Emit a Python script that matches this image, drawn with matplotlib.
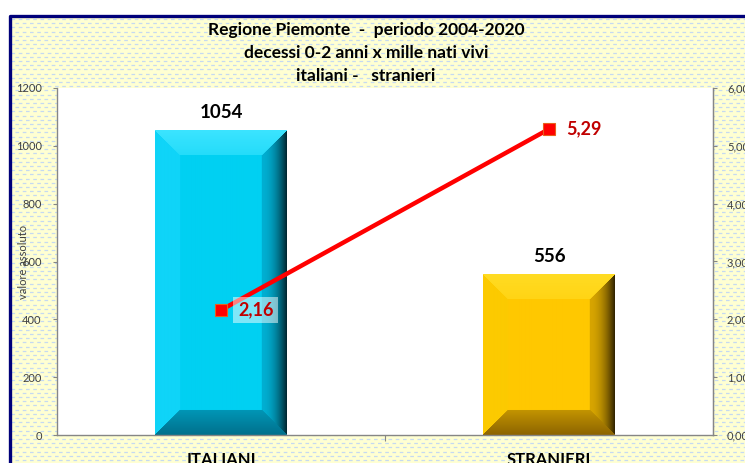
import numpy as np
import matplotlib.pyplot as plt
from matplotlib.patches import Rectangle

# data
categories = ["ITALIANI", "STRANIERI"]
decessi = [1054, 556]
tasso = [2.16, 5.29]
tasso_labels = ["2,16", "5,29"]
left_ticks = [0, 200, 400, 600, 800, 1000, 1200]
right_ticks = [0, 1, 2, 3, 4, 5, 6]
right_tick_labels = ["0,00", "1,00", "2,00", "3,00", "4,00", "5,00", "6,00"]
title_lines = ["Regione Piemonte  -  periodo 2004-2020",
               "decessi 0-2 anni x mille nati vivi",
               "italiani -   stranieri"]

# bar colours: face, top, left, bottom, right inner, right outer
bar_styles = [
    dict(face=(0, 208, 242), top=(60, 228, 255), left=(15, 212, 248),
         bottom=(0, 150, 182), b_out=(0, 112, 140),
         r_in=(0, 175, 210), r_out=(0, 35, 45)),
    dict(face=(255, 200, 0), top=(255, 220, 35), left=(252, 202, 0),
         bottom=(195, 148, 0), b_out=(140, 100, 0),
         r_in=(215, 165, 0), r_out=(45, 32, 0)),
]

W, H = 745, 463
FONT = "Lato"
plt.rcParams["font.family"] = [FONT, "DejaVu Sans"]

fig = plt.figure(figsize=(W / 100, H / 100), dpi=100, facecolor="white")

# background frame with the dashed yellow pattern (pixel coordinates)
bg = fig.add_axes([0, 0, 1, 1], zorder=-5)
bg.set_xlim(0, W)
bg.set_ylim(H, 0)
bg.axis("off")
bg.add_patch(Rectangle((9, 15), W, H, facecolor="#FFFFD2", edgecolor="none"))
for i, yy in enumerate(np.arange(19, H, 4.2)):
    off = 0 if i % 2 == 0 else 4
    bg.hlines(yy, 11 + off, W, colors="#C5D9F1", linewidth=0.9,
              linestyles=(0, (2.9, 2.9)))
bg.plot([10, 10, W], [H, 15.5, 15.5], color="#00007A", linewidth=2.4,
        solid_capstyle="butt")

# plot area
ax = fig.add_axes([57 / W, (H - 435) / H, 656 / W, 347 / H])
ax.set_facecolor("white")
ax.set_xlim(-0.5, 1.5)
ax.set_ylim(0, 1200)

bar_w = 0.4
xs = np.arange(len(categories))


def bevel_bar(x, h, st, b=25):
    x0, x1 = x - bar_w / 2, x + bar_w / 2
    p0 = ax.transData.transform((x0, 0))
    p1 = ax.transData.transform((x1, h))
    w = int(round(p1[0] - p0[0]))
    hh = int(round(p1[1] - p0[1]))
    yy, xx = np.mgrid[0:hh, 0:w]
    dl = xx + 0.5
    dr = w - xx - 0.5
    dt = yy + 0.5
    db = hh - yy - 0.5
    d = np.stack([dt, db, dl, dr])
    near = d.argmin(0)
    dmin = d.min(0)
    img = np.empty((hh, w, 3))
    img[:] = st["face"]
    inb = dmin < b
    t = np.clip(dmin / b, 0, 1)[..., None]
    face = np.array(st["face"], float)
    top = np.array(st["top"], float)
    img = np.where((inb & (near == 0))[..., None],
                   top * (1 - 0.4 * t) + face * 0.4 * t, img)
    img = np.where((inb & (near == 2))[..., None],
                   np.array(st["left"], float) * np.ones_like(t), img)
    img = np.where((inb & (near == 1))[..., None],
                   np.array(st["bottom"], float) * t
                   + np.array(st["b_out"], float) * (1 - t), img)
    k = (1 - t) ** 2
    img = np.where((inb & (near == 3))[..., None],
                   np.array(st["r_in"], float) * (1 - k)
                   + np.array(st["r_out"], float) * k, img)
    ax.imshow(img / 255, extent=(x0, x1, 0, h), aspect="auto",
              interpolation="bilinear", zorder=2)


for x, v, st in zip(xs, decessi, bar_styles):
    bevel_bar(x, v, st)
    ax.annotate(str(v), (x, v), xytext=(0, 9), textcoords="offset pixels",
                ha="center", va="bottom", fontsize=13.5, fontweight="bold",
                color="black", zorder=5)

ax.set_xlim(-0.5, 1.5)
ax.set_ylim(0, 1200)

ax.spines["top"].set_visible(False)
for s in ["left", "bottom", "right"]:
    ax.spines[s].set_color("#868686")
    ax.spines[s].set_linewidth(1)

ax.set_yticks(left_ticks)
ax.set_yticklabels([str(t) for t in left_ticks])
ax.tick_params(axis="y", direction="out", length=3, width=0.8,
               color="#868686", labelsize=8, labelcolor="#404040", pad=8)
ax.set_xticks([0.5])
ax.set_xticklabels([""])
ax.set_xticks(xs, minor=True)
ax.set_xticklabels(categories, minor=True)
ax.tick_params(axis="x", which="major", direction="out", length=4,
               color="#868686")
ax.tick_params(axis="x", which="minor", length=0, labelsize=12, pad=12)
for lab in ax.get_xticklabels(minor=True):
    lab.set_fontweight("bold")
ax.set_ylabel("valore assoluto", fontsize=8, color="#404040")
ax.yaxis.set_label_coords(-0.043, 0.5)

# secondary axis with the rate line
ax2 = ax.twinx()
ax2.set_ylim(0, 6)
ax2.set_yticks(right_ticks)
ax2.set_yticklabels(right_tick_labels)
ax2.tick_params(axis="y", direction="out", length=3, width=0.8,
                color="#868686", labelsize=8, labelcolor="#404040", pad=7)
for s in ["top", "left", "bottom"]:
    ax2.spines[s].set_visible(False)
ax2.spines["right"].set_color("#868686")
ax2.plot(xs, tasso, color="#FF0000", linewidth=3.2, marker="s",
         markersize=8, markerfacecolor="#FF0000", markeredgecolor="#E8601C",
         markeredgewidth=0.8, zorder=4)
for x, v, lab in zip(xs, tasso, tasso_labels):
    box = None
    if x == 0:
        box = dict(boxstyle="square,pad=0.25", facecolor="white",
                   edgecolor="none", alpha=0.5)
    ax2.annotate(lab, (x, v), xytext=(17, 0), textcoords="offset pixels",
                 ha="left", va="center", fontsize=13, fontweight="bold",
                 color="#C00000", bbox=box, zorder=6)

# title
for i, line in enumerate(title_lines):
    fig.text(366 / W, 1 - (30 + 23 * i) / H, line, ha="center", va="center",
             fontsize=12.5, fontweight="bold", color="black")

fig.savefig("out.png", dpi=100, facecolor=fig.get_facecolor())
